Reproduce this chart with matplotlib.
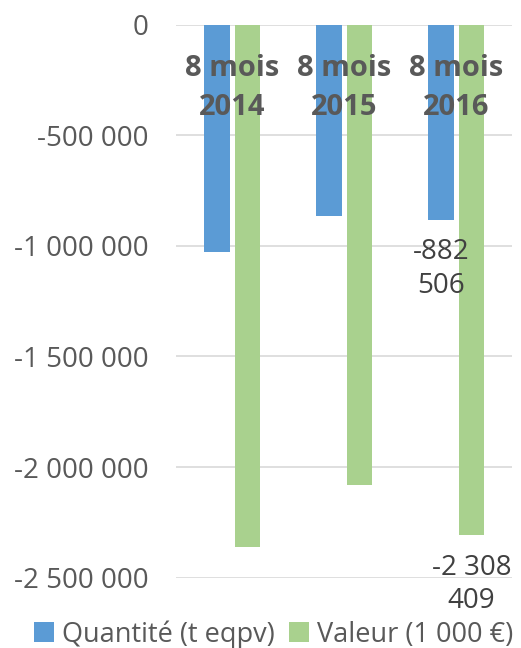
import matplotlib
matplotlib.use("Agg")
import matplotlib.pyplot as plt
from matplotlib.ticker import FuncFormatter, MultipleLocator
from matplotlib.transforms import blended_transform_factory
from matplotlib.patches import Patch
import numpy as np

categories = ["8 mois\n2014", "8 mois\n2015", "8 mois\n2016"]
quantite = [-1027500, -865000, -882506]
valeur = [-2361000, -2082000, -2308409]
series_names = ["Quantité (t eqpv)", "Valeur (1 000 €)"]
quantite_labels = ["", "", "-882\n506"]
valeur_labels = ["", "", "-2 308\n409"]

plt.rcParams['font.family'] = ['Open Sans', 'DejaVu Sans']

BLUE = "#5B9BD5"
GREEN = "#A9D18E"
GRAY = "#595959"
DARK = "#404040"

fig = plt.figure(figsize=(5.21, 6.48), dpi=100)
ax = fig.add_axes([0.338, 0.1085, 0.645, 0.8535])

x = np.arange(len(categories))
w = 0.23
gap = 0.045
xq = x - (w + gap) / 2
xv = x + (w + gap) / 2
ax.bar(xq, quantite, width=w, color=BLUE, zorder=2)
ax.bar(xv, valeur, width=w, color=GREEN, zorder=2)

ax.set_xlim(-0.5, 2.5)
ax.set_ylim(-2500000, 0)
ax.yaxis.set_major_locator(MultipleLocator(500000))

def fmt(v, pos):
    s = f"{abs(int(round(v))):,}".replace(",", " ")
    return ("-" if v < 0 else "") + s

ax.yaxis.set_major_formatter(FuncFormatter(fmt))
ax.grid(axis='y', color="#D9D9D9", linewidth=1.2, zorder=0)
ax.set_axisbelow(True)
for sp in ax.spines.values():
    sp.set_visible(False)
ax.tick_params(axis='y', length=0, labelsize=20, labelcolor=GRAY, pad=20)
ax.tick_params(axis='x', length=0, labelbottom=False)

trans = blended_transform_factory(ax.transData, ax.transAxes)
for xi, c in zip(x, categories):
    l1, l2 = c.split("\n")
    ax.text(xi, 0.9072, l1, transform=trans, ha='center', va='baseline',
            fontsize=21, fontweight='bold', color=GRAY, zorder=3)
    ax.text(xi, 0.8367, l2, transform=trans, ha='center', va='baseline',
            fontsize=21, fontweight='bold', color=GRAY, zorder=3)

def add_labels(xs, vals, labels):
    for xi, v, lab in zip(xs, vals, labels):
        if not lab:
            continue
        l1, l2 = lab.split("\n")
        ax.annotate(l1, xy=(xi, v), xytext=(0, -39.5), textcoords='offset pixels',
                    ha='center', va='baseline', fontsize=20, color=DARK,
                    annotation_clip=False)
        ax.annotate(l2, xy=(xi, v), xytext=(0, -73), textcoords='offset pixels',
                    ha='center', va='baseline', fontsize=20, color=DARK,
                    annotation_clip=False)

add_labels(xq, quantite, quantite_labels)
add_labels(xv, valeur, valeur_labels)

handles = [Patch(facecolor=BLUE), Patch(facecolor=GREEN)]
fig.legend(handles, series_names, loc='center', bbox_to_anchor=(0.525, 0.021),
           ncol=2, frameon=False, fontsize=19.5, labelcolor=GRAY,
           handlelength=0.75, handleheight=0.75, handletextpad=0.3,
           columnspacing=0.5, borderpad=0)

fig.savefig("out.png", dpi=100)
